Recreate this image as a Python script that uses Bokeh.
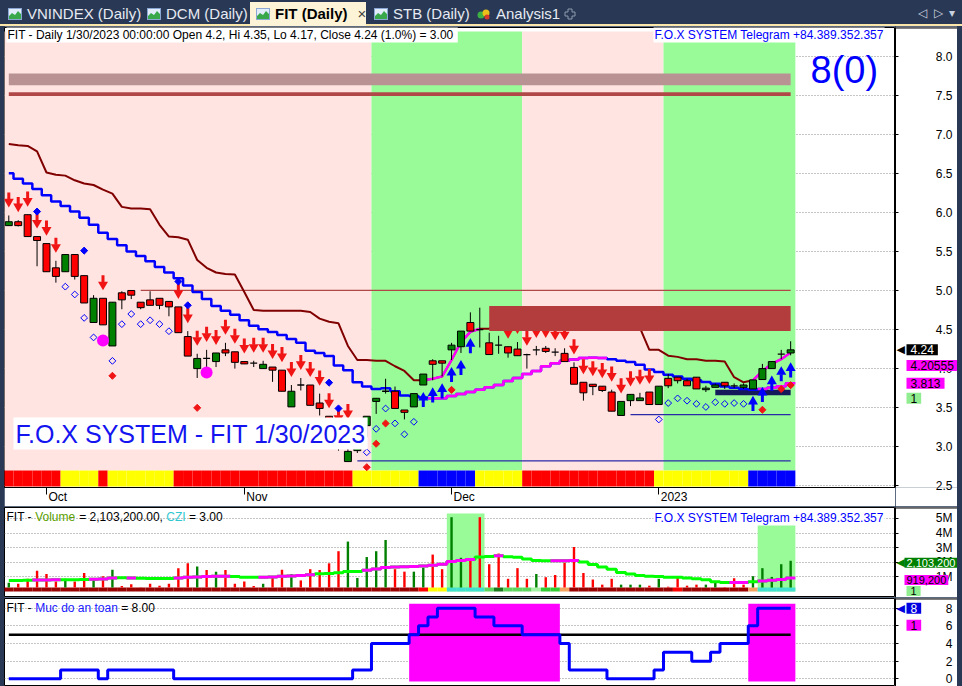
import math
from bokeh.plotting import figure
from bokeh.models import (Range1d, FixedTicker, Label, Div, Span, PrintfTickFormatter,
                          CustomJSTickFormatter)
from bokeh.layouts import column, row
from bokeh.embed import file_html
from bokeh.resources import INLINE

# ============================================================ DATA
symbol = "FIT"
last_stamp = "1/30/2023 00:00:00"
change_pct = 1.0
czi_value = 3.00
signal_count = "8(0)"
telegram = "F.O.X SYSTEM Telegram +84.389.352.357"
watermark = "F.O.X SYSTEM - FIT 1/30/2023"

month_tick_bars = [4, 25, 47, 69]
month_tick_labels = ["Oct", "Nov", "Dec", "2023"]
price_ticks = [2.5, 3.0, 3.5, 4.0, 4.5, 5.0, 5.5, 6.0, 6.5, 7.0, 7.5, 8.0]
volume_ticks_m = [1, 2, 3, 4, 5]
safety_ticks = [0, 2, 4, 6, 8]

opens = [5.83, 5.88, 5.97, 5.69, 5.60, 5.29, 5.24, 5.46, 5.19, 4.59,
         4.90, 4.29, 4.97, 5.00, 4.85, 4.88, 4.90, 4.86, 4.79, 4.41,
         4.00, 4.13, 4.09, 4.24, 4.215, 4.09, 4.07, 4.00, 4.02, 3.98,
         3.51, 3.79, 3.79, 3.56, 3.39, 3.18, 2.81, 2.95, 3.27, 3.58,
         3.71, 3.71, 3.47, 3.51, 3.79, 4.10, 4.10, 4.24, 4.28, 4.59,
         4.50, 4.33, 4.30, 4.28, 4.25, 4.18, 4.24, 4.26, 4.21, 4.195,
         4.015, 3.825, 3.80, 3.775, 3.70, 3.40, 3.59, 3.59, 3.70, 3.54,
         3.875, 3.89, 3.845, 3.89, 3.73, 3.76, 3.825, 3.78, 3.76, 3.74,
         3.86, 4.00, 4.185, 4.2]
highs = [5.96, 5.90, 5.97, 5.69, 5.60, 5.38, 5.46, 5.46, 5.19, 4.94,
         4.90, 4.85, 4.99, 5.00, 4.85, 4.99, 4.90, 4.86, 4.79, 4.48,
         4.19, 4.24, 4.20, 4.33, 4.215, 4.09, 4.10, 4.10, 4.02, 3.98,
         3.79, 3.88, 3.79, 3.68, 3.39, 3.19, 3.25, 3.22, 3.39, 3.62,
         3.87, 3.77, 3.47, 3.68, 3.93, 4.12, 4.10, 4.33, 4.48, 4.72,
         4.78, 4.46, 4.42, 4.28, 4.34, 4.19, 4.29, 4.29, 4.26, 4.26,
         4.08, 3.825, 3.80, 3.775, 3.73, 3.58, 3.67, 3.69, 3.70, 3.775,
         3.93, 3.89, 3.87, 3.89, 3.78, 3.81, 3.825, 3.81, 3.81, 3.855,
         4.06, 4.09, 4.24, 4.35]
lows = [5.83, 5.82, 5.69, 5.31, 5.24, 5.10, 5.24, 5.14, 4.84, 4.59,
        4.56, 4.29, 4.76, 4.89, 4.76, 4.81, 4.76, 4.67, 4.46, 4.16,
        3.88, 3.98, 4.02, 4.16, 4.00, 4.06, 4.02, 4.00, 3.83, 3.71,
        3.51, 3.72, 3.53, 3.40, 3.15, 2.95, 2.81, 2.92, 3.12, 3.42,
        3.68, 3.49, 3.35, 3.51, 3.79, 3.85, 3.90, 4.11, 4.20, 4.48,
        4.27, 4.18, 4.19, 4.14, 4.165, 4.00, 4.17, 4.20, 4.16, 4.09,
        3.80, 3.59, 3.66, 3.70, 3.455, 3.40, 3.52, 3.59, 3.54, 3.54,
        3.75, 3.81, 3.78, 3.74, 3.70, 3.76, 3.74, 3.75, 3.74, 3.74,
        3.855, 4.00, 4.12, 4.17]
closes = [5.88, 5.83, 5.69, 5.64, 5.24, 5.18, 5.46, 5.18, 4.84, 4.90,
          4.56, 4.85, 4.88, 4.94, 4.78, 4.81, 4.81, 4.79, 4.46, 4.16,
          4.13, 4.13, 4.20, 4.20, 4.08, 4.06, 4.07, 4.055, 3.98, 3.71,
          3.71, 3.79, 3.53, 3.49, 3.20, 2.98, 2.94, 3.20, 3.39, 3.62,
          3.71, 3.49, 3.44, 3.68, 3.93, 4.055, 4.07, 4.30, 4.48, 4.48,
          4.50, 4.18, 4.30, 4.20, 4.165, 4.18, 4.24, 4.22, 4.21, 4.09,
          3.80, 3.69, 3.77, 3.72, 3.455, 3.58, 3.67, 3.625, 3.54, 3.775,
          3.78, 3.845, 3.78, 3.74, 3.75, 3.79, 3.78, 3.78, 3.79, 3.855,
          4.00, 4.09, 4.185, 4.24]

# upper trailing stop (maroon in downtrend, magenta in uptrend)
upper_line = [6.875, 6.86, 6.85, 6.78, 6.51, 6.48, 6.47, 6.41, 6.37, 6.35,
              6.29, 6.24, 6.07, 6.05, 6.05, 6.04, 5.84, 5.69, 5.68, 5.65,
              5.39, 5.29, 5.23, 5.21, 5.205, 4.98, 4.75, 4.74, 4.74, 4.74,
              4.74, 4.74, 4.725, 4.64, 4.60, 4.58, 4.29, 4.11, 4.11, 4.10,
              4.10, 4.03, 3.97, 3.85, 3.85, 3.87, 3.90, 4.11, 4.34, 4.47,
              4.51, 4.51, 4.60, 4.60, 4.60, 4.60, 4.60, 4.60, 4.60, 4.60,
              4.60, 4.60, 4.60, 4.60, 4.60, 4.60, 4.60, 4.52, 4.24, 4.24,
              4.165, 4.15, 4.12, 4.12, 4.10, 4.10, 4.09, 3.89, 3.825, 3.85,
              3.97, 4.06, 4.12, 4.20555]
upper_up = [0, 0, 0, 0, 0, 0, 0, 0, 0, 0,
            0, 0, 0, 0, 0, 0, 0, 0, 0, 0,
            0, 0, 0, 0, 0, 0, 0, 0, 0, 0,
            0, 0, 0, 0, 0, 0, 0, 0, 0, 0,
            0, 0, 0, 0, 1, 1, 1, 1, 1, 1,
            0, 0, 0, 0, 0, 0, 0, 0, 0, 0,
            0, 0, 0, 0, 0, 0, 0, 0, 0, 0,
            0, 0, 0, 0, 0, 0, 0, 0, 0, 1,
            1, 1, 1, 1]
# lower stepped average (blue in downtrend, magenta in uptrend)
lower_line = [6.50, 6.43, 6.37, 6.30, 6.22, 6.14, 6.08, 6.01, 5.93, 5.84,
              5.74, 5.66, 5.58, 5.50, 5.44, 5.375, 5.30, 5.23, 5.155, 5.065,
              4.98, 4.89, 4.80, 4.74, 4.69, 4.62, 4.55, 4.505, 4.47, 4.43,
              4.38, 4.33, 4.23, 4.20, 4.16, 4.04, 3.98, 3.825, 3.77, 3.74,
              3.75, 3.71, 3.655, 3.65, 3.63, 3.62, 3.62, 3.65, 3.675, 3.70,
              3.73, 3.76, 3.79, 3.84, 3.88, 3.93, 3.97, 4.03, 4.07, 4.10,
              4.115, 4.135, 4.14, 4.135, 4.12, 4.10, 4.085, 4.05, 3.99, 3.955,
              3.92, 3.90, 3.87, 3.85, 3.83, 3.805, 3.77, 3.755, 3.74, 3.73,
              3.74, 3.755, 3.775, 3.813]
lower_up = [0, 0, 0, 0, 0, 0, 0, 0, 0, 0,
            0, 0, 0, 0, 0, 0, 0, 0, 0, 0,
            0, 0, 0, 0, 0, 0, 0, 0, 0, 0,
            0, 0, 0, 0, 0, 0, 0, 0, 0, 0,
            0, 0, 0, 0, 0, 1, 1, 1, 1, 1,
            1, 1, 1, 1, 1, 1, 1, 1, 1, 1,
            1, 1, 1, 1, 0, 0, 0, 0, 0, 0,
            0, 0, 0, 0, 0, 0, 0, 0, 0, 0,
            1, 1, 1, 1]
trend_bg = [0, 0, 0, 0, 0, 0, 0, 0, 0, 0,
            0, 0, 0, 0, 0, 0, 0, 0, 0, 0,
            0, 0, 0, 0, 0, 0, 0, 0, 0, 0,
            0, 0, 0, 0, 0, 0, 0, 0, 0, 1,
            1, 1, 1, 1, 1, 1, 1, 1, 1, 1,
            1, 1, 1, 1, 1, 0, 0, 0, 0, 0,
            0, 0, 0, 0, 0, 0, 0, 0, 0, 0,
            1, 1, 1, 1, 1, 1, 1, 1, 1, 1,
            1, 1, 1, 1]
# bottom signal band: 0 = red, 1 = yellow, 2 = blue
signal_band = [0, 0, 0, 0, 0, 0, 1, 1, 1, 1,
               0, 1, 1, 1, 1, 1, 1, 1, 0, 0,
               0, 0, 0, 0, 0, 0, 0, 0, 0, 0,
               0, 0, 0, 0, 0, 0, 0, 1, 1, 1,
               1, 1, 1, 1, 2, 2, 2, 2, 2, 2,
               1, 1, 1, 1, 1, 0, 0, 0, 0, 0,
               0, 0, 0, 0, 0, 0, 0, 0, 0, 1,
               1, 1, 1, 1, 1, 1, 1, 1, 1, 2,
               2, 2, 2, 2]

down_arrow_bars = [0, 1, 2, 3, 4, 5, 10, 18, 19, 20, 21, 22, 23, 24, 25, 26, 27,
                   28, 29, 30, 31, 32, 33, 34, 35, 36, 53, 54, 55, 56, 57, 58,
                   59, 60, 61, 62, 63, 64, 65, 66, 67, 68]
up_arrow_bars = [44, 45, 46, 47, 48, 49, 79, 80, 81, 82, 83]
hollow_diamond_bars = [6, 7, 8, 9, 11, 12, 13, 14, 15, 16, 17, 38, 39, 40, 41,
                       42, 43, 69, 70, 71, 72, 73, 74, 75, 76, 77, 78]
red_diamond_bars = [11, 20, 36, 38, 39, 40, 47, 80, 82, 83]
blue_diamond_bars = [3, 8, 18, 19, 34, 35]
blue_diamond_prices = [6.01, 5.51, 5.115, 4.81, 3.82, 3.49]
circle_bars = [10, 21]
circle_prices = [4.36, 3.95]

# horizontal zones: start bar, end bar, low, high
top_zone = (0, 83, 7.627, 7.776)
top_zone_line = (0, 83, 7.49, 7.536)
resist_zone = (51, 83, 4.48, 4.80)
support_zone = (75, 83, 3.66, 3.73)
level_prices = [5.0, 3.41, 2.82]
level_starts = [14, 66, 37]
level_ends = [83, 83, 83]

# volume pane (millions of shares)
volume_m = [0.60, 0.53, 0.87, 1.42, 1.20, 0.69, 0.87, 0.69, 1.27, 0.87,
            1.05, 1.49, 0.38, 0.50, 0.30, 0.53, 0.40, 0.53, 1.60, 1.93,
            1.71, 1.47, 1.36, 1.47, 0.53, 0.69, 0.38, 0.53, 1.05, 1.49,
            1.20, 0.76, 1.53, 1.47, 1.93, 2.76, 3.42, 0.93, 2.36, 2.76,
            3.53, 1.53, 1.36, 1.36, 1.64, 2.53, 1.53, 5.09, 2.31, 2.25,
            5.09, 1.87, 2.60, 0.87, 1.60, 0.87, 1.20, 0.98, 1.13, 1.98,
            3.05, 1.27, 0.82, 0.47, 0.87, 0.47, 0.47, 0.47, 0.40, 0.87,
            0.33, 1.05, 0.40, 0.47, 0.47, 0.60, 0.30, 0.91, 0.47, 1.05,
            1.60, 1.00, 1.87, 2.1032]
volume_up = [1, 0, 0, 0, 0, 0, 1, 0, 0, 1,
             0, 1, 0, 0, 0, 0, 0, 0, 0, 0,
             1, 0, 1, 0, 0, 0, 0, 1, 0, 0,
             1, 0, 0, 0, 0, 0, 1, 1, 1, 1,
             1, 0, 0, 1, 1, 0, 0, 1, 1, 0,
             0, 0, 0, 0, 0, 0, 1, 0, 0, 0,
             0, 0, 0, 0, 0, 1, 1, 1, 0, 1,
             0, 0, 0, 0, 1, 1, 0, 0, 0, 1,
             1, 1, 1, 1]
volume_ma_m = [0.76, 0.76, 0.77, 0.79, 0.79, 0.80, 0.80, 0.81, 0.82, 0.84,
               0.86, 0.93, 0.95, 0.93, 0.90, 0.89, 0.89, 0.89, 0.93, 0.97,
               1.00, 1.02, 1.04, 1.05, 1.02, 0.98, 0.97, 0.97, 0.99, 1.04,
               1.06, 1.09, 1.14, 1.21, 1.24, 1.29, 1.37, 1.37, 1.45, 1.55,
               1.65, 1.68, 1.70, 1.72, 1.75, 1.80, 1.86, 2.05, 2.13, 2.20,
               2.36, 2.40, 2.45, 2.38, 2.34, 2.22, 2.13, 2.10, 2.10, 2.11,
               2.12, 2.02, 1.85, 1.68, 1.52, 1.31, 1.20, 1.09, 1.04, 1.02,
               0.98, 0.98, 0.93, 0.87, 0.80, 0.66, 0.62, 0.62, 0.62, 0.66,
               0.72, 0.77, 0.83, 0.9192]
volume_ma_up = [0, 0, 0, 1, 1, 1, 0, 0, 0, 1,
                1, 1, 0, 1, 0, 0, 0, 0, 1, 1,
                1, 1, 1, 1, 0, 0, 0, 1, 1, 1,
                1, 1, 1, 0, 0, 0, 0, 0, 1, 1,
                1, 1, 1, 1, 1, 1, 1, 1, 1, 1,
                0, 0, 1, 0, 0, 0, 0, 0, 1, 1,
                1, 0, 0, 0, 0, 0, 0, 0, 0, 0,
                0, 0, 0, 0, 0, 0, 0, 1, 1, 0,
                1, 1, 1, 1]
# volume status strip category per bar
volume_strip = [0, 0, 0, 0, 0, 0, 0, 0, 0, 0,
                0, 0, 0, 0, 0, 0, 0, 0, 0, 0,
                0, 0, 0, 0, 0, 0, 0, 0, 0, 0,
                0, 0, 0, 0, 0, 0, 0, 0, 0, 0,
                0, 0, 0, 0, 1, 2, 2, 3, 3, 3,
                3, 4, 5, 4, 4, 4, 6, 7, 7, 8,
                0, 0, 0, 0, 0, 0, 0, 0, 0, 0,
                0, 1, 0, 0, 0, 0, 0, 0, 0, 8,
                3, 3, 3, 3]
volume_zone_bars = [47, 48, 49, 50, 80, 81, 82, 83]

# "Muc do an toan" (safety level) pane
safety = [0, 0, 0, 0, 0, 0, 1, 1, 1, 1,
          0, 1, 1, 1, 1, 1, 1, 1, 0, 0,
          0, 0, 0, 0, 0, 0, 0, 0, 0, 0,
          0, 0, 0, 0, 0, 0, 0, 1, 1, 4,
          4, 4, 4, 5, 6, 7, 8, 8, 8, 8,
          7, 7, 6, 6, 6, 5, 5, 5, 5, 4,
          1, 1, 1, 1, 0, 0, 0, 0, 0, 1,
          3, 3, 3, 2, 2, 3, 4, 4, 4, 6,
          8, 8, 8, 8]
safety_threshold = 5
safety_zone_range = (-0.3, 8.5)

N = len(closes)
for arr in (opens, highs, lows, upper_line, upper_up, lower_line, lower_up, trend_bg,
            signal_band, volume_m, volume_up, volume_ma_m, volume_ma_up, volume_strip, safety):
    assert len(arr) == N
bars = list(range(N))

# ============================================================ STYLE
FONT = "Liberation Sans"
NAVY = "#293955"
PINK_BG = "#FFE4E1"
GREEN_BG = "#98FB98"
MAROON = "#800000"
BLUE = "#0000FF"
MAGENTA = "#FF00FF"
RED = "#FF0000"
CANDLE_GREEN = "#008000"
BAND_COLORS = ["#FF0000", "#FFFF00", "#0000FF"]
STRIP_COLORS = ["#990000", "#FF0000", "#FFFF00", "#40E0D0", "#5ED65E",
                "#1B7A1B", "#A5F2A5", "#33CC33", "#F4A460"]

FW = 891                  # chart frame width
RIGHT = 62                # price-scale strip width
X0, X1 = -0.456, 94.13
PX_BAR = FW / (X1 - X0)

MAIN_H, MAIN_BOTTOM = 480, 17
MAIN_FH = MAIN_H - 1 - MAIN_BOTTOM
PY0, PY1 = 2.478, 8.366
PPU = MAIN_FH / (PY1 - PY0)

VOL_H = 91
VOL_FH = VOL_H - 1
VY0, VY1 = -0.41, 5.753
VPPU = VOL_FH / (VY1 - VY0)

IND_H = 89
IND_FH = IND_H - 1
IY0, IY1 = -0.872, 9.10

ARIAL = {' ': 278, '-': 333, '=': 584, ',': 278, '.': 278, '(': 333, ')': 333,
         '%': 889, '/': 278, ':': 278, '+': 584}
for ch in "0123456789":
    ARIAL[ch] = 556
for ch, w in zip("ABCDEFGHIJKLMNOPQRSTUVWXYZ",
                 [667, 667, 722, 722, 667, 611, 778, 722, 278, 500, 667, 556, 833,
                  722, 778, 667, 778, 722, 667, 611, 722, 667, 944, 667, 667, 611]):
    ARIAL[ch] = w
for ch, w in zip("abcdefghijklmnopqrstuvwxyz",
                 [556, 556, 500, 556, 556, 278, 556, 556, 222, 222, 500, 222, 833,
                  556, 556, 556, 556, 333, 500, 278, 556, 500, 722, 500, 500, 500]):
    ARIAL[ch] = w


def text_w(s, size=12):
    return sum(ARIAL.get(c, 556) for c in s) * size / 1000.0


def runs(flags):
    out, s = [], 0
    for i in range(1, len(flags) + 1):
        if i == len(flags) or flags[i] != flags[s]:
            out.append((s, i - 1, flags[s]))
            s = i
    return out


def make_pane(h, y0, y1, bottom, with_x, ticks, fmt):
    yr = Range1d(y0, y1)
    p = figure(width=FW, height=h, x_range=Range1d(X0, X1), y_range=yr,
               x_axis_location="below" if with_x else None, y_axis_location=None,
               output_backend="svg", toolbar_location=None,
               min_border_left=0, min_border_right=0, min_border_top=1,
               min_border_bottom=bottom, outline_line_color="black",
               background_fill_color="white", border_fill_color="white",
               margin=(0, 0, 0, 4))
    p.xgrid.visible = False
    p.ygrid.ticker = FixedTicker(ticks=ticks)
    p.ygrid.grid_line_color = "#8C8C8C"
    p.ygrid.grid_line_dash = "1 2"

    s = figure(width=RIGHT, height=h, x_range=Range1d(0, RIGHT), y_range=yr,
               x_axis_location=None, y_axis_location="left",
               output_backend="svg", toolbar_location=None,
               min_border_left=0, min_border_right=0, min_border_top=1,
               min_border_bottom=bottom, outline_line_color=None,
               background_fill_color="white", border_fill_color="white",
               margin=(0, 5, 0, 0))
    s.xgrid.visible = False
    s.ygrid.visible = False
    ax = s.yaxis[0]
    ax.ticker = FixedTicker(ticks=ticks)
    ax.formatter = fmt
    ax.axis_line_color = "black"
    ax.major_tick_line_color = "black"
    ax.major_tick_out = 0
    ax.major_tick_in = 3
    ax.minor_tick_line_color = None
    ax.major_label_standoff = -57
    ax.major_label_text_font = FONT
    ax.major_label_text_font_size = "12px"
    ax.major_label_text_color = "black"
    s.add_layout(Span(location=y1, dimension="width", line_color="black", line_width=2))
    return p, s


def add_label(p, text, x, y, color="black", size=12, bg=None, baseline="top",
              font=FONT, padding=0, y_units="screen", y_offset=0):
    kw = dict(x=x, y=y, x_units="screen", y_units=y_units, y_offset=y_offset,
              text=text, text_color=color, text_font=font, text_font_size=f"{size}px",
              text_baseline=baseline, text_align="left")
    if bg is not None:
        kw.update(background_fill_color=bg, padding=padding)
    p.add_layout(Label(**kw))


def value_tag(s, text, v, fg, bg, y_offset=0, pointer=False, size=12, x=11, pad=4):
    add_label(s, text, x, v, color=fg, bg=bg, baseline="middle", padding=(pad, 1),
              y_units="data", y_offset=y_offset, size=size)
    if pointer:
        add_label(s, "\u25C0", 1, v, color=bg, size=11, baseline="middle",
                  font="DejaVu Sans", y_units="data", y_offset=y_offset)


def colored_title(p, pieces, fh):
    x = 2.0
    for text, col in pieces:
        stripped = text.lstrip(" ")
        x += text_w(text[:len(text) - len(stripped)])
        add_label(p, stripped, x, fh - 2, color=col)
        x += text_w(stripped)

# ============================================================ TAB BAR
def icon():
    return ('<svg width="14" height="12" style="vertical-align:-1px;margin-right:5px">'
            '<rect x="0.5" y="0.5" width="13" height="11" fill="#e3ecfa" stroke="#8aa6d2"/>'
            '<polygon points="1,11 1,8 4,5 7,7 10,3 13,6 13,11" fill="#39a84b"/></svg>')


gem = ('<svg width="14" height="12" style="vertical-align:-1px;margin-right:5px">'
       '<circle cx="4" cy="7" r="3.5" fill="#3cb043"/><circle cx="9" cy="5" r="3.5" fill="#e8c21a"/>'
       '<circle cx="10" cy="9" r="2.5" fill="#d63a2a"/></svg>')
plus = ('<svg width="12" height="12"><path d="M4 1h4v3h3v4h-3v3h-4v-3h-3v-4h3z" '
        'fill="none" stroke="#8d99ad"/></svg>')
tab_style = "position:absolute;top:5px;white-space:nowrap;color:#e6eaf2;"
tabs_html = (
    f'<div style="position:relative;width:962px;height:26px;background:{NAVY};overflow:hidden;'
    f'font-family:\'{FONT}\',Arial,sans-serif;font-size:15px;line-height:18px;">'
    '<div style="position:absolute;left:0;right:0;bottom:0;height:2px;background:#fbe7a9"></div>'
    '<div style="position:absolute;left:250px;top:2px;width:116px;height:24px;background:#fdf4d8"></div>'
    f'<div style="{tab_style}left:8px">{icon()}VNINDEX (Daily)</div>'
    f'<div style="{tab_style}left:147px">{icon()}DCM (Daily)</div>'
    f'<div style="{tab_style}left:256px;color:#000;font-weight:bold">{icon()}FIT (Daily)'
    '<span style="font-weight:normal;color:#444;margin-left:10px">\u00d7</span></div>'
    f'<div style="{tab_style}left:374px">{icon()}STB (Daily)</div>'
    f'<div style="{tab_style}left:477px">{gem}Analysis1</div>'
    f'<div style="{tab_style}left:564px;top:6px">{plus}</div>'
    f'<div style="{tab_style}left:918px;top:4px;font-size:12px;color:#c9d1df">'
    '\u25C1&nbsp;&nbsp;\u25B7&nbsp;&nbsp;\u25BE</div>'
    '</div>')
header = Div(text=tabs_html, width=962, height=26, margin=0)

# ============================================================ MAIN PANE
pm, sm = make_pane(MAIN_H, PY0, PY1, MAIN_BOTTOM, True, price_ticks,
                   PrintfTickFormatter(format="%.1f"))

label_pos = [b + (2 + text_w(t) / 2) / PX_BAR for b, t in zip(month_tick_bars, month_tick_labels)]
xa = pm.xaxis[0]
xa.ticker = FixedTicker(ticks=label_pos, minor_ticks=month_tick_bars)
xa.formatter = CustomJSTickFormatter(args=dict(pos=label_pos, labels=month_tick_labels), code="""
let best = 0;
for (let i = 0; i < pos.length; i++) {
  if (Math.abs(pos[i] - tick) < Math.abs(pos[best] - tick)) { best = i; }
}
return labels[best];
""")
xa.major_tick_out = 0
xa.major_tick_in = 0
xa.minor_tick_out = 7
xa.minor_tick_in = 0
xa.minor_tick_line_color = "black"
xa.axis_line_color = "black"
xa.major_label_standoff = -5
xa.major_label_text_font = FONT
xa.major_label_text_font_size = "12px"
xa.major_label_text_color = "black"

band_bottom = PY0 + 1.0 / PPU
band_top = PY0 + 17.0 / PPU

for s_, e_, f in runs(trend_bg):
    pm.quad(left=s_ - 0.5, right=e_ + 0.5, bottom=band_top, top=PY1 - 4 / PPU,
            fill_color=GREEN_BG if f else PINK_BG, line_color=None)
pm.quad(left=[b - 0.5 for b in bars], right=[b + 0.5 for b in bars],
        bottom=band_bottom, top=band_top,
        fill_color=[BAND_COLORS[c] for c in signal_band], line_color=None)

pm.quad(left=top_zone[0], right=top_zone[1], bottom=top_zone[2], top=top_zone[3],
        fill_color="#B99393", line_color=None)
pm.quad(left=top_zone_line[0], right=top_zone_line[1], bottom=top_zone_line[2],
        top=top_zone_line[3], fill_color="#B04848", line_color=None)
level_colors = ["#B04848", "#2A2AA8", "#2A2AA8"]
pm.segment(x0=level_starts, y0=level_prices, x1=level_ends, y1=level_prices,
           line_color=level_colors, line_width=1.2)
pm.quad(left=support_zone[0], right=support_zone[1], bottom=support_zone[2],
        top=support_zone[3], fill_color="#141A5A", line_color=None)

pm.line(bars, upper_line, line_color=MAROON, line_width=2)
for s_, e_, f in runs(upper_up):
    if f:
        pm.line(bars[s_:e_ + 2], upper_line[s_:e_ + 2], line_color=MAGENTA, line_width=2.5)
pm.step(bars, lower_line, mode="center", line_color=BLUE, line_width=2.5)
for s_, e_, f in runs(lower_up):
    if f:
        xs = [s_ - 0.5] + bars[s_:e_ + 1] + [e_ + 0.5]
        ys = [lower_line[s_]] + lower_line[s_:e_ + 1] + [lower_line[e_]]
        pm.step(xs, ys, mode="center", line_color=MAGENTA, line_width=2.5)

body_top = [max(o, c) for o, c in zip(opens, closes)]
body_bot = [min(o, c) for o, c in zip(opens, closes)]
pm.segment(x0=bars, y0=lows, x1=bars, y1=highs, line_color="black", line_width=1)
nd = [i for i in bars if abs(opens[i] - closes[i]) > 1e-9]
doji = [i for i in bars if abs(opens[i] - closes[i]) <= 1e-9]
pm.vbar(x=nd, width=0.74, top=[body_top[i] for i in nd], bottom=[body_bot[i] for i in nd],
        fill_color=[CANDLE_GREEN if closes[i] > opens[i] else RED for i in nd],
        line_color="black", line_width=1)
pm.segment(x0=[i - 0.37 for i in doji], y0=[closes[i] for i in doji],
           x1=[i + 0.37 for i in doji], y1=[closes[i] for i in doji],
           line_color="black", line_width=1.3)

TRI = 10
TRI_H = TRI / 2 * math.sqrt(3)


def arrows(bs, base, up, color, gap):
    sgn = -1 if up else 1
    head = [base[b] + sgn * (gap + 2 * TRI_H / 3) / PPU for b in bs]
    shaft = [base[b] + sgn * (gap + TRI_H + 3) / PPU for b in bs]
    pm.rect(x=bs, y=shaft, width=3, height=7, width_units="screen", height_units="screen",
            fill_color=color, line_color=None)
    pm.scatter(x=bs, y=head, marker="triangle" if up else "inverted_triangle", size=TRI,
               fill_color=color, line_color=None)


arrows(down_arrow_bars, highs, False, "#F01414", 8)
arrows(up_arrow_bars, lows, True, BLUE, 7)

pm.scatter(x=hollow_diamond_bars, y=[lows[b] - 15 / PPU for b in hollow_diamond_bars],
           marker="square", angle=math.pi / 4, size=4.8, fill_color=None,
           line_color=BLUE, line_width=1)
pm.scatter(x=red_diamond_bars, y=[lows[b] - 30 / PPU for b in red_diamond_bars],
           marker="square", angle=math.pi / 4, size=5, fill_color="#F01414",
           line_color="#F01414")
pm.scatter(x=blue_diamond_bars, y=blue_diamond_prices, marker="square", angle=math.pi / 4,
           size=5, fill_color=BLUE, line_color=BLUE)
pm.scatter(x=circle_bars, y=circle_prices, marker="circle", size=12,
           fill_color=MAGENTA, line_color=None)

pm.quad(left=resist_zone[0], right=resist_zone[1], bottom=resist_zone[2], top=resist_zone[3],
        fill_color="#B33D3D", line_color=None)

title = (f"{symbol} - Daily {last_stamp} Open {opens[-1]:g}, Hi {highs[-1]:g}, "
         f"Lo {lows[-1]:g}, Close {closes[-1]:g} ({change_pct:.1f}%)  = {czi_value:.2f}")
add_label(pm, title, 2, MAIN_FH - 1, bg="white", padding=1)
add_label(pm, telegram, 649, MAIN_FH - 1, color=BLUE, bg="white", padding=1)
add_label(pm, signal_count, 806, MAIN_FH - 23, color=BLUE, size=38)
add_label(pm, watermark, 9, 38, color="#1414F0", size=25, bg="white", baseline="bottom",
          padding=2)

value_tag(sm, f"{closes[-1]:.2f}", closes[-1], "white", "black", pointer=True)
value_tag(sm, f"{upper_line[-1]:g}", upper_line[-1], "black", MAGENTA, y_offset=-13)
value_tag(sm, f"{lower_line[-1]:g}", lower_line[-1], "black", MAGENTA)
value_tag(sm, "1", lower_line[-1], "black", "#90EE90", y_offset=-15)

# ============================================================ VOLUME PANE
pv, sv = make_pane(VOL_H, VY0, VY1, 0, False, volume_ticks_m,
                   PrintfTickFormatter(format="%dM"))

for s_, e_, f in runs([1 if b in volume_zone_bars else 0 for b in bars]):
    if f:
        pv.quad(left=s_ - 0.5, right=e_ + 0.5, bottom=0, top=VY1 - 6 / VPPU,
                fill_color=GREEN_BG, line_color=None)
pv.quad(left=[b - 0.5 for b in bars], right=[b + 0.5 for b in bars],
        bottom=0, top=4 / VPPU,
        fill_color=[STRIP_COLORS[c] for c in volume_strip], line_color=None)
pv.segment(x0=bars, y0=[4 / VPPU] * N, x1=bars, y1=volume_m,
           line_color=[CANDLE_GREEN if u else RED for u in volume_up], line_width=2.4)
pv.step(bars, volume_ma_m, mode="center", line_color="#00FF00", line_width=3)
for s_, e_, f in runs(volume_ma_up):
    if f:
        xs = [s_ - 0.5] + bars[s_:e_ + 1] + [e_ + 0.5]
        ys = [volume_ma_m[s_]] + volume_ma_m[s_:e_ + 1] + [volume_ma_m[e_]]
        pv.step(xs, ys, mode="center", line_color=MAGENTA, line_width=3)

vol_fmt = f"{volume_m[-1] * 1e6:,.2f}"
colored_title(pv, [(f"{symbol} - ", "black"), ("Volume", "#5AA000"),
                   (f" = {vol_fmt}, ", "black"), ("CZI", "#30C8D0"),
                   (f" = {czi_value:.2f}", "black")], VOL_FH)
add_label(pv, telegram, 649, VOL_FH - 2, color=BLUE, bg="white", padding=1)
value_tag(sv, f"{volume_m[-1] * 1e6:,.0f}", volume_m[-1], "white", CANDLE_GREEN,
          y_offset=-2, pointer=True, size=11, x=9, pad=2)
value_tag(sv, f"{volume_ma_m[-1] * 1e6:,.0f}", volume_ma_m[-1], "black", MAGENTA,
          y_offset=-2, size=11, x=9, pad=2)
value_tag(sv, "1", volume_ma_m[-1], "black", "#90EE90", y_offset=-13, size=11, x=11)

# ============================================================ SAFETY PANE
pi, si = make_pane(IND_H, IY0, IY1, 0, False, safety_ticks,
                   PrintfTickFormatter(format="%d"))

for s_, e_, f in runs([1 if v >= safety_threshold else 0 for v in safety]):
    if f:
        pi.quad(left=s_ - 0.5, right=e_ + 0.5, bottom=safety_zone_range[0],
                top=safety_zone_range[1], fill_color=MAGENTA, line_color=None)
pi.segment(x0=[0], y0=[safety_threshold], x1=[N - 1], y1=[safety_threshold],
           line_color="black", line_width=2.5)
pi.step(bars, safety, mode="center", line_color=BLUE, line_width=3)

colored_title(pi, [(f"{symbol} - ", "black"), ("Muc do an toan", "#2020FF"),
                   (f" = {safety[-1]:.2f}", "black")], IND_FH)
value_tag(si, f"{safety[-1]}", safety[-1], "white", "#0000E0", pointer=True)
value_tag(si, "1", safety[-1], "black", MAGENTA, y_offset=-17)

layout = column(header, row(pm, sm), row(pv, sv), row(pi, si),
                styles={"background-color": NAVY})
open("out.html", "w").write(file_html(layout, INLINE, title="FIT (Daily)"))
